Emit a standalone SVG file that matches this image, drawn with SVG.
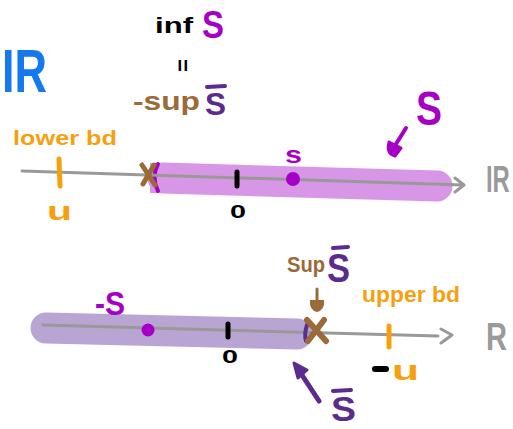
<svg xmlns="http://www.w3.org/2000/svg" width="513" height="429" viewBox="0 0 513 429">
<style>
text{font-family:"Liberation Sans","DejaVu Sans",sans-serif;font-weight:bold}
.pur{fill:#a600c6}
.dpur{fill:#5c2b8e}
.brn{fill:#9a6a38}
.org{fill:#f6a010}
.blk{fill:#000}
.gry{fill:#9a9a9a}
.axis{stroke:#999;stroke-width:3;fill:none;stroke-linecap:round;stroke-linejoin:round}
.tick{stroke-width:5;stroke-linecap:round;fill:none}
</style>
<rect width="513" height="429" fill="#fff"/>

<!-- top header -->
<text x="2" y="92" font-size="62" fill="#1478f0" textLength="45" lengthAdjust="spacingAndGlyphs">IR</text>
<text x="155" y="33" font-size="22" class="blk" textLength="38" lengthAdjust="spacingAndGlyphs">inf</text>
<text x="202" y="38" font-size="38" class="pur" textLength="22" lengthAdjust="spacingAndGlyphs">S</text>
<text x="0" y="0" font-size="22" class="blk" transform="translate(183,66) rotate(90) translate(-7,8)">=</text>
<text x="133" y="110" font-size="26" class="brn" textLength="67" lengthAdjust="spacingAndGlyphs">-sup</text>
<text x="205" y="115" font-size="32" class="dpur" textLength="21" lengthAdjust="spacingAndGlyphs">S</text>
<line x1="207" y1="87" x2="225" y2="86" stroke="#5c2b8e" stroke-width="4" stroke-linecap="round"/>

<!-- top number line -->
<line x1="163" y1="178" x2="437" y2="186" stroke="#d896e6" stroke-width="31" stroke-linecap="round"/>
<rect x="150" y="163" width="20" height="30" fill="#d896e6"/>
<path d="M158,164 Q151,177 158,191" stroke="#a600c6" stroke-width="4" fill="none" stroke-linecap="round"/>
<path class="axis" d="M22,171 L463,185 M455,178 L464,185 L455,192"/>
<line class="tick" x1="59" y1="159" x2="60" y2="186" stroke="#f6a010"/>
<text x="13" y="145" font-size="20" class="org" textLength="104" lengthAdjust="spacingAndGlyphs">lower bd</text>
<text x="47" y="220" font-size="26" class="org" textLength="25" lengthAdjust="spacingAndGlyphs">u</text>
<line class="tick" x1="237" y1="172" x2="237" y2="186" stroke="#000"/>
<text x="230" y="218" font-size="18" class="blk" textLength="16" lengthAdjust="spacingAndGlyphs">0</text>
<path d="M142,165 L155,185 M154,165 L143,184" stroke="#9a6a38" stroke-width="5" stroke-linecap="round"/>
<circle cx="293" cy="179" r="7" fill="#a600c6"/>
<text x="285" y="163" font-size="24" class="pur" textLength="17" lengthAdjust="spacingAndGlyphs">s</text>
<text x="416" y="125" font-size="48" class="pur" textLength="26" lengthAdjust="spacingAndGlyphs">S</text>
<line x1="406" y1="128" x2="396" y2="144" stroke="#a600c6" stroke-width="4" stroke-linecap="round"/>
<path d="M389,142 L401,148 L395,156 Q386,154 389,142 Z" fill="#a600c6" stroke="#a600c6" stroke-width="3" stroke-linejoin="round"/>
<text x="0" y="0" font-size="28" class="gry" transform="translate(486,192) scale(0.85,1.3)">IR</text>

<!-- bottom number line -->
<line x1="46" y1="328" x2="297" y2="334" stroke="#b9a5d3" stroke-width="31" stroke-linecap="round"/>
<path class="axis" d="M43,325 L438,336 M441,329 L452,335 L441,343"/>
<circle cx="148" cy="330" r="6.5" fill="#a600c6"/>
<text x="95" y="315" font-size="34" class="pur" textLength="30" lengthAdjust="spacingAndGlyphs">-S</text>
<line class="tick" x1="228" y1="324" x2="228" y2="337" stroke="#000"/>
<text x="222" y="363" font-size="18" class="blk" textLength="16" lengthAdjust="spacingAndGlyphs">0</text>
<path d="M307,325 Q304,334 306,341" stroke="#5c2b8e" stroke-width="4" fill="none" stroke-linecap="round"/>
<path d="M307,320 L326,341 M324,320 L308,341" stroke="#9a6a38" stroke-width="6" stroke-linecap="round"/>
<text x="287" y="272" font-size="22" class="brn" textLength="38" lengthAdjust="spacingAndGlyphs">Sup</text>
<text x="327" y="282" font-size="40" class="dpur" textLength="23" lengthAdjust="spacingAndGlyphs">S</text>
<line x1="333" y1="248" x2="348" y2="247" stroke="#5c2b8e" stroke-width="4" stroke-linecap="round"/>
<line x1="317" y1="289" x2="317" y2="302" stroke="#9a6a38" stroke-width="3" stroke-linecap="round"/>
<path d="M310,300 L324,300 Q325,310 317,312 Q309,310 310,300 Z" fill="#9a6a38"/>
<text x="362" y="302" font-size="22" class="org" textLength="98" lengthAdjust="spacingAndGlyphs">upper bd</text>
<line class="tick" x1="389" y1="326" x2="389" y2="347" stroke="#f6a010"/>
<line x1="375" y1="369" x2="386" y2="369" stroke="#000" stroke-width="6" stroke-linecap="round"/>
<text x="392" y="380" font-size="28" class="org" textLength="27" lengthAdjust="spacingAndGlyphs">u</text>
<line x1="319" y1="401" x2="300" y2="372" stroke="#5c2b8e" stroke-width="5" stroke-linecap="round"/>
<path d="M294,363 L307,370 L298,378 Z" fill="#5c2b8e" stroke="#5c2b8e" stroke-width="3" stroke-linejoin="round"/>
<text x="331" y="421" font-size="35" class="dpur" textLength="25" lengthAdjust="spacingAndGlyphs">S</text>
<line x1="333" y1="391" x2="351" y2="390" stroke="#5c2b8e" stroke-width="4" stroke-linecap="round"/>
<text x="486" y="350" font-size="38" class="gry" textLength="21" lengthAdjust="spacingAndGlyphs">R</text>
</svg>
